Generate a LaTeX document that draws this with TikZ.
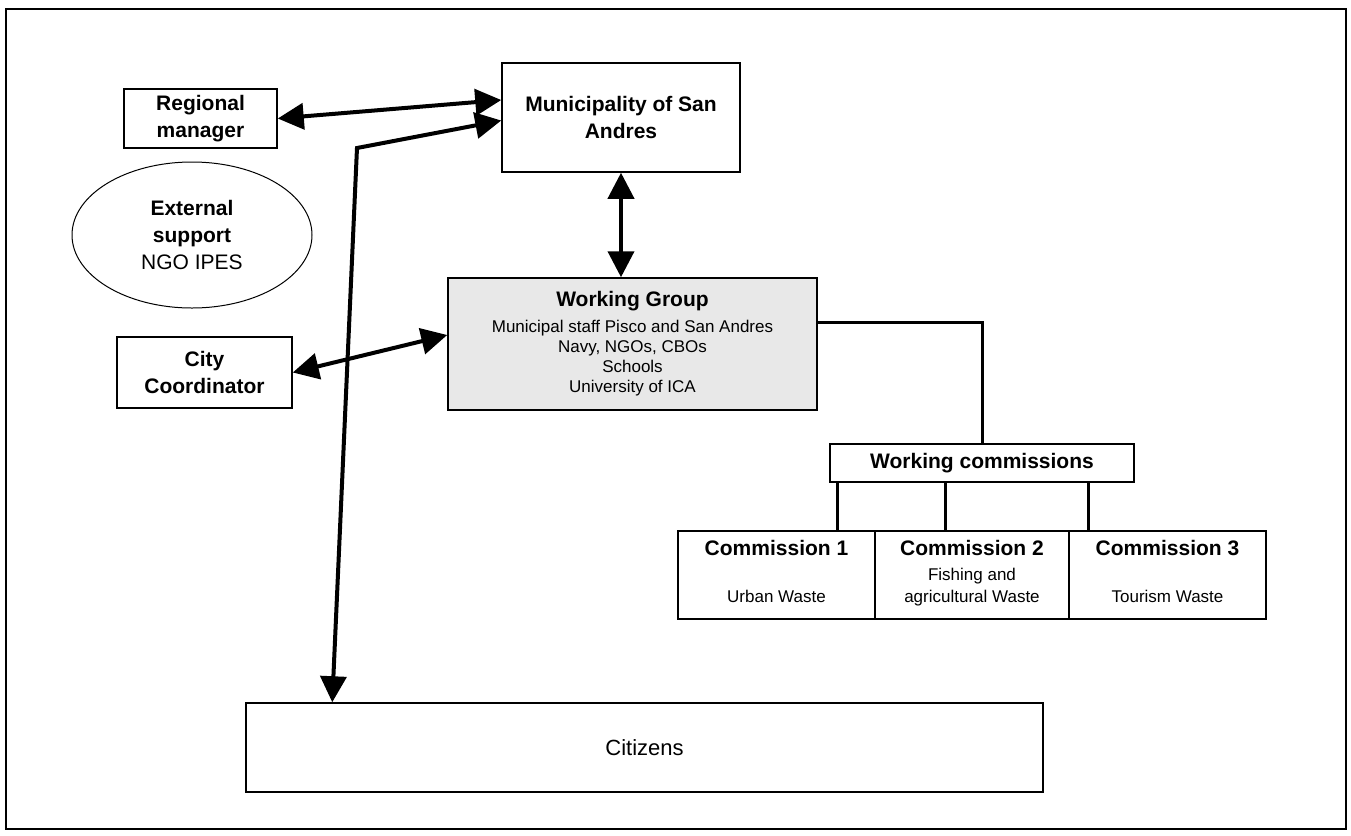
\documentclass[tikz,border=0pt]{standalone}
\usepackage{fontspec}
\setmainfont{Liberation Sans}
\usetikzlibrary{calc, shapes, arrows.meta}

\tikzset{
	box/.style={rectangle, draw, line width=0.75pt, align=center, inner sep=0pt},
	bigfont/.style={font=\fontsize{10.5}{13.5}\selectfont},
	smallfont/.style={font=\fontsize{8.5}{10}\selectfont},
	comm/.style={box, font=\fontsize{8.5}{11}\selectfont, minimum height=44pt},
	dblarrow/.style={{Triangle[length=13pt,width=13pt]}-{Triangle[length=13pt,width=13pt]}, line width=2pt},
	link/.style={-, line width=1.5pt},
}
\newcommand{\hd}[1]{\textbf{\fontsize{10.5}{13.5}\selectfont #1}}

\begin{document}
\begin{tikzpicture}[x=0.5pt, y=-0.5pt]
	
	\useasboundingbox (0,0) rectangle (1351,836);
	\draw[line width=0.75pt] (6,9) rectangle (1346,829);
	
	\node[box, bigfont, minimum width=76.5pt, minimum height=29.5pt] (reg) at (200.5,118.5) {\textbf{Regional}\\\textbf{manager}};
	\node[box, bigfont, minimum width=119pt, minimum height=54.5pt] (munic) at (621,117.5) {\textbf{Municipality of San}\\\textbf{Andres}};
	\node[ellipse, draw, line width=0.5pt, align=center, inner sep=0pt, bigfont, minimum width=120pt, minimum height=73pt] (ext) at (192,235) {\textbf{External}\\\textbf{support}\\NGO IPES};
	
	\node[box, smallfont, fill=black!9, minimum width=184.5pt, minimum height=66pt] (wg) at (632.5,344) {\hd{Working Group}\\[3pt]Municipal staff Pisco and San Andres\\Navy, NGOs, CBOs\\Schools\\University of ICA};
	\node[box, bigfont, minimum width=87.5pt, minimum height=35.5pt] (city) at (204.5,372.5) {\textbf{City}\\\textbf{Coordinator}};
	
	\node[box, bigfont, minimum width=152pt, minimum height=19pt] (wc) at (982,463) {\textbf{Working commissions}};
	
	\node[comm, minimum width=98.5pt] (c1) at (776.5,575) {\hd{Commission 1}\\[12.5pt]Urban Waste\strut};
	\node[comm, minimum width=97pt] (c2) at (972,575) {\hd{Commission 2}\\[1.5pt]Fishing and\\agricultural Waste\strut};
	\node[comm, minimum width=98.5pt] (c3) at (1167.5,575) {\hd{Commission 3}\\[12.5pt]Tourism Waste\strut};
	
	\node[box, font=\fontsize{11}{13}\selectfont, minimum width=398.5pt, minimum height=44.5pt] (cit) at (644.5,747.5) {Citizens};
	
	% arrows
	\coordinate (knee) at (357,148);
	\coordinate (citN) at ($(cit.north west)+(87,0)$);
	
	\draw[dblarrow] (reg.east) -- ($(munic.west)+(0,-17.5)$);
	\draw[dblarrow] (citN) -- (knee) -- ($(munic.west)+(0,3)$);
	\draw[dblarrow] (munic.south) -- (munic.south |- wg.north);
	\draw[dblarrow] (city.east) -- ($(wg.west)+(0,-9)$);
	
	% commissions
	\draw[link] ($(wg.east)+(0,-22)$) -| (wc.north);
	\draw[link] ($(wc.south west)+(8,0)$) coordinate (w1) -- (w1 |- c1.north);
	\draw[link] ($(wc.south west)+(116,0)$) coordinate (w2) -- (w2 |- c2.north);
	\draw[link] ($(wc.south east)+(-46,0)$) coordinate (w3) -- (w3 |- c3.north);
	
\end{tikzpicture}
\end{document}
